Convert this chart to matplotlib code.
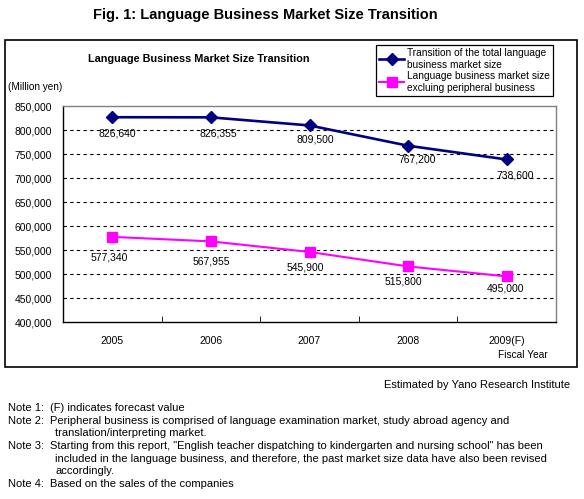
import matplotlib
matplotlib.use("Agg")
import matplotlib.pyplot as plt
from matplotlib.patches import Rectangle

plt.rcParams['font.family'] = ['Liberation Sans', 'DejaVu Sans']

years = ['2005', '2006', '2007', '2008', '2009(F)']
total_size = [826640, 826355, 809500, 767200, 738600]
excl_size = [577340, 567955, 545900, 515800, 495000]
total_label = 'Transition of the total language\nbusiness market size'
excl_label = 'Language business market size\nexcluing peripheral business'
yticks = [400000, 450000, 500000, 550000, 600000, 650000, 700000, 750000, 800000, 850000]

notes = [
    ('Note 1:', ['(F) indicates forecast value']),
    ('Note 2:', ['Peripheral business is comprised of language examination market, study abroad agency and',
                 'translation/interpreting market.']),
    ('Note 3:', ['Starting from this report, "English teacher dispatching to kindergarten and nursing school" has been',
                 'included in the language business, and therefore, the past market size data have also been revised',
                 'accordingly.']),
    ('Note 4:', ['Based on the sales of the companies']),
]

W, H = 584, 499
fig = plt.figure(figsize=(W / 100, H / 100), dpi=100)

def fx(x):
    return x / W

def fy(y):
    return 1 - y / H

# outer chart box
fig.add_artist(Rectangle((fx(5), fy(367)), fx(577 - 5), (367 - 40) / H,
                         transform=fig.transFigure, fill=False, edgecolor='black', lw=1.2))

fig.text(fx(265), fy(15), 'Fig. 1: Language Business Market Size Transition',
         fontsize=10.5, fontweight='bold', ha='center', va='center')
fig.text(fx(199), fy(59), 'Language Business Market Size Transition',
         fontsize=7.8, fontweight='bold', ha='center', va='center')
fig.text(fx(8), fy(87), '(Million yen)', fontsize=7.2, ha='left', va='center')

ax = fig.add_axes([fx(63), fy(322), fx(556 - 63), (322 - 106) / H])
x = list(range(len(years)))
l1, = ax.plot(x, total_size, color='#000080', lw=1.9, marker='D', markersize=6)
l2, = ax.plot(x, excl_size, color='#FF00FF', lw=1.5, marker='s', markersize=6.5)

ax.set_xlim(-0.5, len(years) - 0.5)
ax.set_ylim(400000, 850000)
ax.set_yticks(yticks)
ax.set_yticklabels([f'{v:,}' for v in yticks], fontsize=7.5)
ax.set_xticks(x)
ax.set_xticklabels(years, fontsize=7.5)
ax.tick_params(axis='y', length=0, pad=8)
ax.tick_params(axis='x', length=0, pad=10)
# small inward ticks between categories
ax.set_xticks([i + 0.5 for i in x[:-1]], minor=True)
ax.tick_params(axis='x', which='minor', direction='in', length=4, color='black')

for v in yticks[1:-1]:
    ax.axhline(v, color='black', lw=0.8, ls=(0, (3, 3)), zorder=0)

ax.spines['left'].set_color('black')
ax.spines['bottom'].set_color('black')
ax.spines['top'].set_color('#808080')
ax.spines['right'].set_color('#808080')
for s in ax.spines.values():
    s.set_linewidth(1)

# data labels
tot_dx = [5, 7, 6, 9, 8]
tot_dy = [16, 16, 14, 14, 16]
exc_dx = [-3, 0, -4, -5, -1]
exc_dy = [21, 20, 16, 15, 12]
for i, v in enumerate(total_size):
    ax.annotate(f'{v:,}', (x[i], v), xytext=(tot_dx[i], -tot_dy[i]), textcoords='offset pixels',
                ha='center', va='center', fontsize=7.5)
for i, v in enumerate(excl_size):
    ax.annotate(f'{v:,}', (x[i], v), xytext=(exc_dx[i], -exc_dy[i]), textcoords='offset pixels',
                ha='center', va='center', fontsize=7.5)

leg = fig.legend([l1, l2], [total_label, excl_label], loc='upper left',
                 bbox_to_anchor=(fx(376), fy(45)), fontsize=7.3, frameon=True,
                 fancybox=False, edgecolor='black', framealpha=1, borderpad=0.3,
                 handlelength=2.5, handletextpad=0.3, labelspacing=0.15, borderaxespad=0)
leg.get_frame().set_linewidth(0.9)

fig.text(fx(523), fy(355), 'Fiscal Year', fontsize=7.3, ha='center', va='center')

fig.text(fx(570), fy(385), 'Estimated by Yano Research Institute', fontsize=8, ha='right', va='center')

line_y = 408
step = 12.7
for head, lines in notes:
    fig.text(fx(8), fy(line_y), head, fontsize=8, ha='left', va='center')
    for j, t in enumerate(lines):
        fig.text(fx(50 if j == 0 else 55), fy(line_y), t, fontsize=8, ha='left', va='center')
        line_y += step

fig.savefig('out.png', dpi=100)
